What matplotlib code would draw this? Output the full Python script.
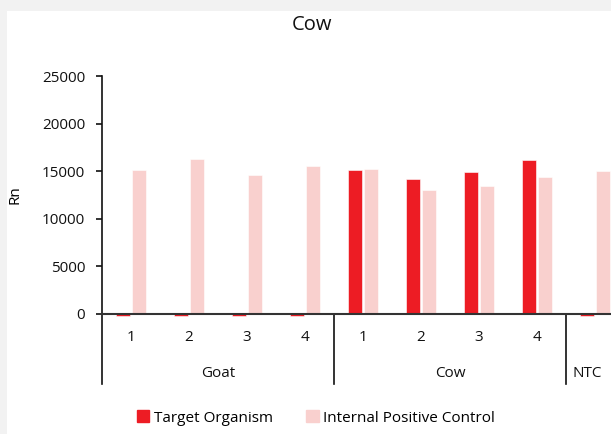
import matplotlib.pyplot as plt
import matplotlib.patches as mpatches
import matplotlib.transforms as mtransforms
import numpy as np

plt.rcParams['font.family'] = ['Open Sans', 'DejaVu Sans']

# データ
groups = ['Goat', 'Cow', 'NTC']
group_sizes = [4, 4, 1]
sample_labels = ['1', '2', '3', '4', '1', '2', '3', '4', '']
target_vals = [-250, -250, -250, -250, 15070, 14200, 14900, 16130, -250]
ipc_vals = [15100, 16320, 14640, 15510, 15250, 12970, 13460, 14400, 14970]

red = '#ED1C24'
pink = '#F9D0CE'

fig = plt.figure(figsize=(6.11, 4.34), dpi=100)
fig.patch.set_facecolor('#F2F2F2')
# 白いパネル
fig.patches.append(mpatches.Rectangle((7 / 611, 0), 1, 1 - 11 / 434, transform=fig.transFigure,
                                      facecolor='white', edgecolor='none', zorder=-10))

ax = fig.add_axes([102 / 611, 120.3 / 434, 522 / 611, 237.7 / 434])
ax.set_facecolor('none')
ax.set_zorder(5)

x = np.arange(len(target_vals))
w = 0.255
ax.bar(x - w / 2 - 0.01, target_vals, w, color=red, edgecolor='white', linewidth=0.4,
       label='Target Organism', clip_on=False, zorder=2)
ax.bar(x + w / 2 + 0.01, ipc_vals, w, color=pink, edgecolor='white', linewidth=0.4,
       label='Internal Positive Control', clip_on=False, zorder=2)

ax.set_xlim(-0.5, len(x) - 0.5)
ax.set_ylim(0, 25000)
ax.set_yticks(np.arange(0, 25001, 5000))
ax.tick_params(axis='y', direction='out', length=4, width=1.2, labelsize=11, colors='#111111', pad=8)
ax.set_xticks([])
for s in ['top', 'right', 'bottom']:
    ax.spines[s].set_visible(False)
ax.spines['left'].set_linewidth(1.2)
ax.spines['left'].set_color('#111111')
ax.axhline(0, color='#333333', linewidth=1.5, zorder=3, clip_on=False)

ax.set_ylabel('Rn', fontsize=11, labelpad=14)
fig.text(312 / 611, 1 - 25 / 434, 'Cow', ha='center', va='center', fontsize=14.5, color='#111111')

# カテゴリラベル
trans = mtransforms.blended_transform_factory(ax.transData, ax.transAxes)
for xi, lab in zip(x, sample_labels):
    ax.text(xi, -0.102, lab, transform=trans, ha='center', va='center', fontsize=11, color='#111111')

start = -0.5
bottom = -0.296
ax.plot([start, start], [0, bottom], transform=trans, color='#111111', linewidth=1.2, clip_on=False)
for g, n in zip(groups, group_sizes):
    end = start + n
    if g == 'NTC':
        ax.text(start + 0.12, -0.25, g, transform=trans, ha='left', va='center', fontsize=11, color='#111111')
    else:
        ax.text((start + end) / 2, -0.25, g, transform=trans, ha='center', va='center', fontsize=11, color='#111111')
        ax.plot([end, end], [0, bottom], transform=trans, color='#111111', linewidth=1.2, clip_on=False)
    start = end

handles = [mpatches.Patch(color=red), mpatches.Patch(color=pink)]
fig.legend(handles, ['Target Organism', 'Internal Positive Control'], loc='center',
           bbox_to_anchor=(316 / 611, 16 / 434), ncol=2, frameon=False, fontsize=11,
           handlelength=0.8, handleheight=0.8, handletextpad=0.3, columnspacing=2.2)

fig.savefig('out.png', dpi=100, facecolor=fig.get_facecolor())
